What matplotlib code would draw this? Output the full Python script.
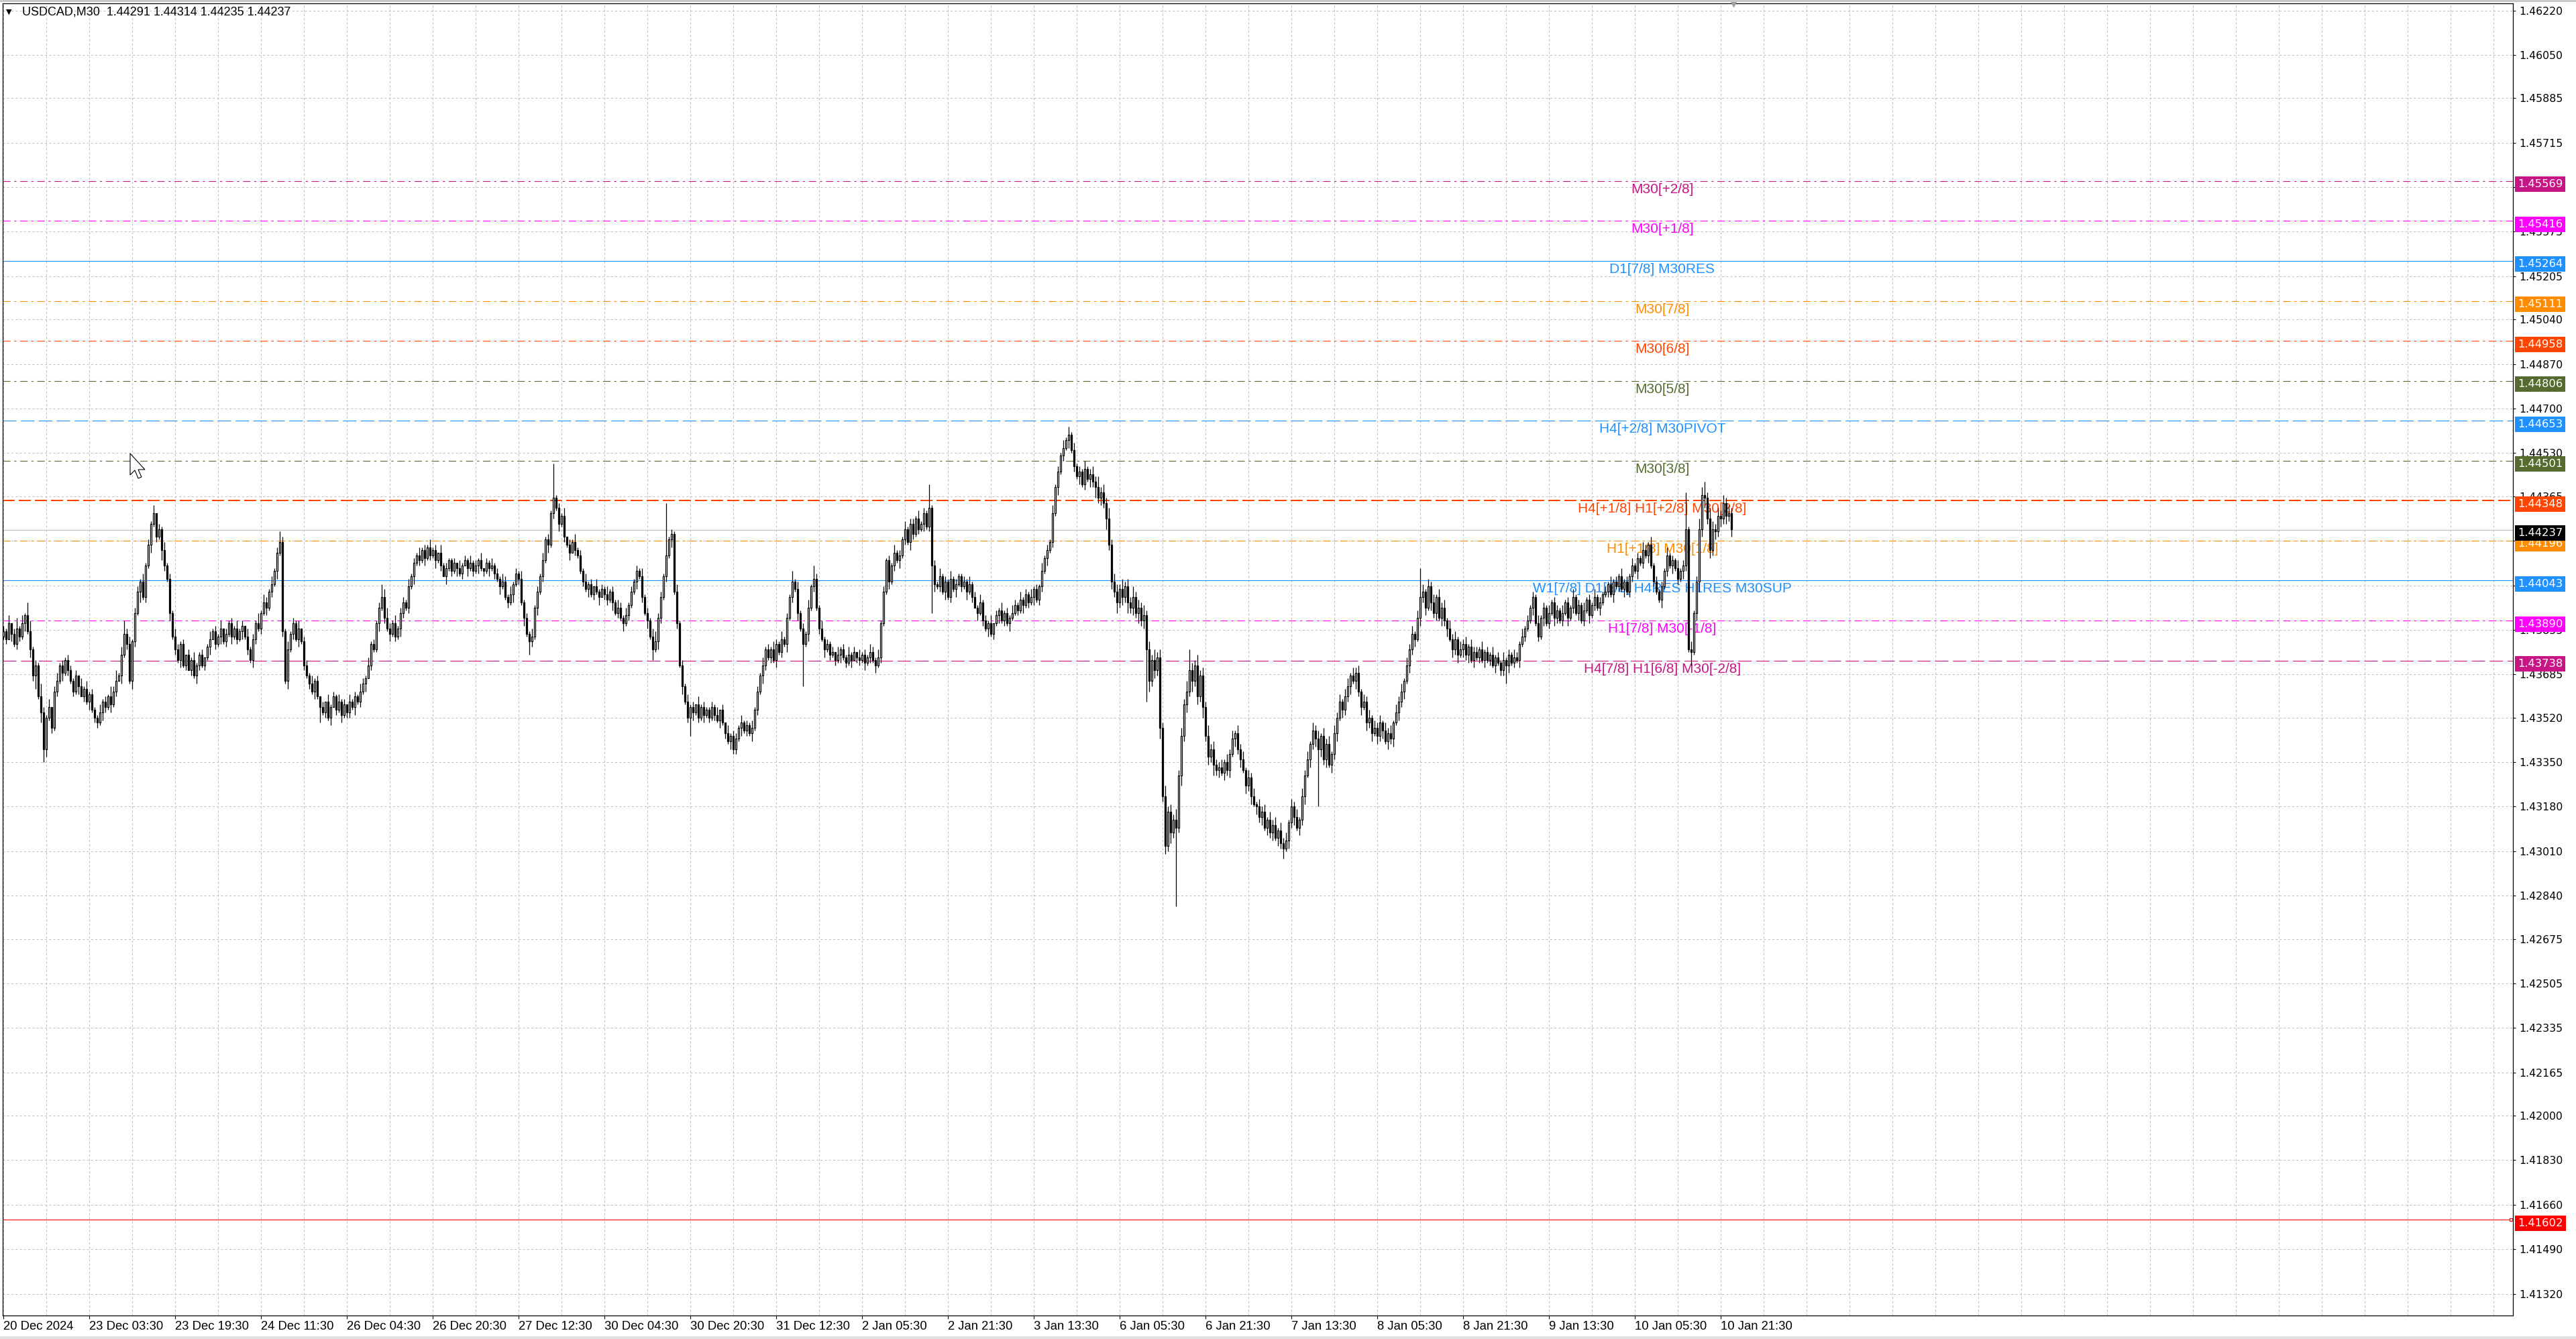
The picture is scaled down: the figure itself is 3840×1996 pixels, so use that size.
import numpy as np
import matplotlib
matplotlib.use("Agg")
import matplotlib.pyplot as plt
from matplotlib.patches import Polygon, Rectangle
from matplotlib.transforms import blended_transform_factory, offset_copy

W, H, DPI = 3840, 1996, 100

# ---------------- data (prices in pips above 1.40000) ----------------
title = "USDCAD,M30  1.44291 1.44314 1.44235 1.44237"

time_labels = ["20 Dec 2024", "23 Dec 03:30", "23 Dec 19:30", "24 Dec 11:30", "26 Dec 04:30",
               "26 Dec 20:30", "27 Dec 12:30", "30 Dec 04:30", "30 Dec 20:30", "31 Dec 12:30",
               "2 Jan 05:30", "2 Jan 21:30", "3 Jan 13:30", "6 Jan 05:30", "6 Jan 21:30",
               "7 Jan 13:30", "8 Jan 05:30", "8 Jan 21:30", "9 Jan 13:30", "10 Jan 05:30",
               "10 Jan 21:30"]

price_ticks = [1.46220, 1.46050, 1.45885, 1.45715, 1.45545, 1.45375, 1.45205, 1.45040,
               1.44870, 1.44700, 1.44530, 1.44365, 1.44195, 1.44025, 1.43855, 1.43685,
               1.43520, 1.43350, 1.43180, 1.43010, 1.42840, 1.42675, 1.42505, 1.42335,
               1.42165, 1.42000, 1.41830, 1.41660, 1.41490, 1.41320]

first_open = 383
dec20 = [385, 382, 388, 384, 380, 386, 383, 388, 391, 385, 378, 368, 372, 360, 354, 340, 352,
         356, 348, 362, 366, 372, 369, 374, 370]
dec23 = [366, 362, 368, 364, 360, 363, 358, 361, 355, 352, 350, 354, 358, 356, 360, 357, 362,
         366, 368, 376, 384, 380, 366, 381, 392, 400, 404, 398, 410, 418, 426, 430, 421, 424,
         416, 410, 405, 392, 383, 378, 374, 380, 372, 376, 370, 374, 368, 372]
dec24 = [376, 372, 375, 379, 382, 385, 380, 383, 386, 381, 384, 388, 383, 386, 382, 385, 387,
         383, 378, 374, 382, 388, 386, 392, 396, 394, 400, 403, 408, 415, 419, 385, 366, 378,
         384, 388, 382, 386, 381, 372, 368, 365, 362, 366, 360, 356]
dec26 = [354, 358, 352, 356, 360, 355, 358, 353, 357, 354, 358, 356, 360, 358, 362, 365, 367,
         372, 380, 378, 388, 394, 398, 390, 386, 384, 388, 383, 386, 392, 396, 394, 402, 406,
         411, 414, 412, 416, 413, 417, 414, 416, 412, 415, 410, 406, 409, 412]
dec27 = [408, 411, 409, 407, 410, 412, 409, 411, 408, 410, 412, 409, 408, 411, 409, 410, 407,
         405, 402, 404, 398, 396, 399, 403, 407, 405, 396, 390, 384, 381, 383, 394, 400, 406,
         412, 420, 418, 430, 436, 432, 426, 429, 421, 418, 415, 419, 416, 414]
dec30 = [408, 404, 401, 403, 399, 402, 400, 398, 401, 399, 397, 400, 396, 392, 394, 390, 388,
         391, 395, 400, 404, 408, 406, 398, 392, 389, 383, 378, 381, 390, 398, 406, 414, 420,
         422, 400, 388, 372, 364, 358, 352, 356, 354, 357, 352, 356, 353, 355]
dec31 = [352, 356, 353, 351, 355, 350, 346, 343, 345, 340, 344, 348, 350, 347, 349, 346, 348,
         355, 362, 368, 372, 378, 375, 378, 374, 380, 377, 382, 380, 390, 398, 404, 401, 392,
         386, 380, 384, 394, 402, 405, 394, 386, 382, 378, 380, 376]
jan02 = [377, 374, 376, 378, 375, 373, 376, 374, 377, 375, 374, 376, 373, 375, 377, 374, 372,
         375, 388, 400, 412, 404, 410, 415, 412, 414, 420, 424, 419, 426, 422, 428, 424, 426,
         430, 425, 432, 410, 403, 402, 406, 400, 404, 398, 405, 401, 403, 406]
jan03 = [402, 404, 400, 403, 398, 394, 392, 396, 389, 386, 388, 384, 388, 391, 393, 389, 392,
         388, 390, 392, 395, 393, 397, 395, 399, 396, 398, 401, 397, 402, 408, 413, 416, 419,
         430, 440, 446, 452, 455, 458, 460, 454, 448, 444, 446, 441, 447, 443]
jan06 = [445, 442, 440, 436, 438, 434, 428, 418, 404, 400, 396, 401, 398, 402, 396, 394, 398,
         392, 394, 389, 391, 378, 366, 374, 370, 375, 348, 322, 303, 316, 308, 313, 310, 330,
         345, 357, 362, 370, 366, 372, 360, 368, 356, 345, 337, 340, 334, 332]
jan07 = [333, 331, 335, 332, 338, 344, 346, 340, 336, 332, 326, 329, 322, 319, 318, 314, 316,
         310, 313, 308, 311, 306, 309, 304, 302, 305, 312, 318, 314, 310, 313, 322, 330, 336,
         342, 347, 344, 340, 345, 336, 342, 334, 338, 346, 352, 358, 355, 360]
jan08 = [364, 368, 366, 369, 362, 356, 358, 350, 352, 346, 348, 345, 350, 347, 343, 346, 344,
         350, 354, 358, 362, 366, 372, 378, 384, 382, 390, 398, 400, 394, 402, 396, 392, 398,
         390, 394, 389, 386, 382, 378, 382, 376, 378, 380, 376, 379, 374, 377]
jan09 = [375, 378, 374, 377, 374, 376, 372, 375, 373, 370, 374, 372, 376, 373, 375, 374, 380,
         383, 386, 389, 394, 398, 388, 383, 390, 394, 388, 392, 396, 390, 393, 389, 392, 396,
         390, 394, 398, 392, 395, 389, 393, 397, 391, 395, 398, 394, 396, 399]
jan10 = [400, 403, 399, 404, 402, 406, 401, 404, 400, 406, 410, 408, 413, 411, 416, 414, 418,
         410, 404, 400, 397, 402, 408, 414, 410, 412, 409, 405, 408, 410, 424, 378, 377, 392,
         404, 424, 437, 436, 428, 416, 424, 423, 429, 428, 434, 429, 430, 424]

# upper / lower wick lengths in pips, one digit per bar (one line per trading day)
wick_up = ("2130241312" "4121521302" "31212"
           "2120313121" "1312142413" "5231221312" "1302131213" "21202131"
           "1201312130" "2121312031" "2141321312" "4213121302" "213120"
           "2031213120" "3121321312" "1213421312" "2131213121" "31203121"
           "1203121312" "1302131213" "2131213121" "3121312131" "21302131"
           "2131203121" "3121321312" "1213121342" "2131213121" "31203121"
           "1213020312" "2131213121" "3121321312" "1213121312" "213121"
           "2031213120" "3121321312" "1213121312" "2131213121" "31213121"
           "1213121312" "1302131213" "2131213121" "3121312131" "21312131"
           "2324232423" "3242324232" "4232423242" "3242324232" "42324232"
           "2313231323" "1323132313" "2313231323" "1323132313" "23132313"
           "3132313231" "3231323132" "3132313231" "3231323132" "31323132"
           "2131213121" "3121321312" "1213121312" "2131213121" "31213121"
           "2131213121" "3121321312" "1213121312" "2131243424" "32323232")
wick_dn = ("1203122131" "3251423121" "21312"
           "1213021312" "2132131203" "1213214121" "3121421312" "13120213"
           "2121302131" "2131213121" "3212131213" "1213121312" "121312"
           "1213021312" "2131213021" "1312131213" "2121312131" "21312031"
           "2131203121" "3121312131" "1213121312" "2131213121" "31213021"
           "1213121302" "2131213121" "1312131213" "2121312131" "21312131"
           "2121312131" "2131213121" "3212131213" "1213121312" "121312"
           "1213121302" "2131213121" "1312131213" "2121312131" "21312131"
           "2131203121" "3121312131" "1213121312" "2131213121" "31213121"
           "3242324232" "4232423242" "3242324232" "4232423242" "32423242"
           "3132313231" "3231323132" "3132313231" "3231323132" "31323132"
           "2313231323" "1323132313" "2313231323" "1323132313" "23132313"
           "1213121312" "2131213121" "1312131213" "2121312131" "21312131"
           "1213121312" "2131213121" "1312131213" "2121343423" "23232323")

# notable extremes (bar index -> pips)
high_spikes = {9: 396, 56: 433, 103: 422, 141: 403, 205: 449, 236: 410, 247: 434, 294: 408,
               302: 410, 345: 441, 397: 463, 442: 378, 528: 409, 627: 438, 634: 442}
low_spikes = {15: 335, 118: 350, 196: 376, 242: 374, 256: 345, 272: 338, 298: 364, 346: 392,
              426: 358, 437: 280, 477: 298, 490: 318, 560: 365, 618: 395, 629: 372}

level_prices = [1.45569, 1.45416, 1.45264, 1.45111, 1.44958, 1.44806, 1.44653, 1.44501,
                1.44348, 1.44196, 1.44043, 1.43890, 1.43738]
level_names = ["M30[+2/8]", "M30[+1/8]", "D1[7/8] M30RES", "M30[7/8]", "M30[6/8]", "M30[5/8]",
               "H4[+2/8] M30PIVOT", "M30[3/8]", "H4[+1/8] H1[+2/8] M30[2/8]", "H1[+1/8] M30[1/8]",
               "W1[7/8] D1[6/8] H4RES H1RES M30SUP", "H1[7/8] M30[-1/8]",
               "H4[7/8] H1[6/8] M30[-2/8]"]
level_colors = ["#C71585", "#FF00FF", "#1E90FF", "#FF8C00", "#FF4500", "#556B2F", "#1E90FF",
                "#556B2F", "#FF4500", "#FF8C00", "#1E90FF", "#FF00FF", "#C71585"]
level_styles = ["dashdot", "dashdot", "solid", "dashdot", "dashdot", "dashdot", "dash",
                "dashdot", "dash", "dashdot", "solid", "dashdot", "dash"]

bid_price = 1.44237
alert_price = 1.41602

# ---------------- build candles ----------------
closes = dec20 + dec23 + dec24 + dec26 + dec27 + dec30 + dec31 + jan02 + jan03 + jan06 + \
    jan07 + jan08 + jan09 + jan10
n = len(closes)
c = 1.4 + np.array(closes) / 1e4
o = np.r_[1.4 + first_open / 1e4, c[:-1]]
up = np.array([int(ch) for ch in wick_up.ljust(n, "1")[:n]]) / 1e4
dn = np.array([int(ch) for ch in wick_dn.ljust(n, "1")[:n]]) / 1e4
hi = np.maximum(o, c) + up
lo = np.minimum(o, c) - dn
for b, v in high_spikes.items():
    if b < n:
        hi[b] = max(hi[b], 1.4 + v / 1e4)
for b, v in low_spikes.items():
    if b < n:
        lo[b] = min(lo[b], 1.4 + v / 1e4)
x = np.arange(n)

# ---------------- figure ----------------
fig = plt.figure(figsize=(W / DPI, H / DPI), dpi=DPI, facecolor="white")
ax = fig.add_axes([4 / W, 1 - 1961 / H, (3746 - 4) / W, (1961 - 5) / H])
ax.set_facecolor("white")
ax.set_xlim(-0.25, 935.25)
ax.set_ylim(1.41237, 1.46247)

grid_kw = dict(color="#C0C0C0", lw=0.75, ls=(0, (3, 3)), zorder=0)
for b in range(0, 936, 16):
    ax.axvline(b, **grid_kw)
for p in price_ticks:
    ax.axhline(p, **grid_kw)

dash_map = {"dashdot": (0, (10, 5, 3, 5)), "dash": (0, (18, 6)), "solid": "-"}
for p, col, st in zip(level_prices, level_colors, level_styles):
    lw = 0.8
    ls = dash_map[st]
    if p == 1.44348:
        lw, ls = 1.44, (0, (9, 3))
    ax.axhline(p, color=col, lw=lw, ls=ls, zorder=2)
ax.axhline(bid_price, color="#C0C0C0", lw=0.9, zorder=2)
ax.axhline(alert_price, color="#FF0000", lw=0.8, zorder=2)
ax.plot([934.5], [alert_price], marker="s", ms=3.5, mfc="white", mec="#FF0000", mew=0.9,
        zorder=3, clip_on=False)

for p, name, col in zip(level_prices, level_names, level_colors):
    ax.annotate(name, xy=(618.25, p), xytext=(0, -3), textcoords="offset pixels",
                ha="center", va="top", color=col, fontsize=15, family="Liberation Sans",
                zorder=4)

# candles
ax.vlines(x, lo, hi, color="black", lw=0.9, zorder=5)
bull = c >= o
ax.bar(x[bull], (c - o)[bull], bottom=o[bull], width=0.62, facecolor="white",
       edgecolor="black", linewidth=0.9, zorder=6)
ax.bar(x[~bull], (o - c)[~bull], bottom=c[~bull], width=0.62, facecolor="black",
       edgecolor="black", linewidth=0.9, zorder=6)

# chart shift marker
ax.plot([644.75], [1.46247], marker="v", ms=7, color="#A0A0A0", clip_on=False, zorder=8)

# axes look
for s in ax.spines.values():
    s.set_color("black")
    s.set_linewidth(0.9)
ax.yaxis.tick_right()
ax.set_yticks(price_ticks)
ax.set_yticklabels([f"{p:.5f}" for p in price_ticks])
ax.tick_params(axis="y", direction="out", length=3, width=0.8, pad=4, labelsize=11.3,
               colors="black")
ax.set_xticks(range(0, 32 * len(time_labels), 32))
ax.set_xticklabels(time_labels)
ax.tick_params(axis="x", direction="out", length=3.5, width=0.8, pad=2, labelsize=13.3)
for lab in ax.get_xticklabels():
    lab.set_horizontalalignment("left")
    lab.set_family("Liberation Sans")
for lab in ax.get_yticklabels():
    lab.set_family("DejaVu Sans")

# price boxes on the right scale (drawn just below their line, as the terminal does)
trans = offset_copy(blended_transform_factory(ax.transAxes, ax.transData), fig=fig,
                    x=7, y=-5, units="dots")
box_prices = level_prices + [bid_price, alert_price]
box_colors = level_colors + ["#000000", "#FF0000"]
for p, col in zip(box_prices, box_colors):
    ax.text(1.0, p, f"{p:.5f}", transform=trans, ha="left", va="center", color="white",
            fontsize=11.8, family="DejaVu Sans", clip_on=False, zorder=20,
            bbox=dict(boxstyle="square,pad=0.25", fc=col, ec="none"))

# title
fig.text(9 / W, 1 - 18 / H, "\u25bc", fontsize=8, ha="left", va="center",
         family="DejaVu Sans", color="black")
fig.text(33 / W, 1 - 18 / H, title, fontsize=13, ha="left", va="center",
         family="Liberation Sans", color="black")

# mouse cursor
tip = (194, 676)
pts = [(0, 0), (0, 32), (7, 25), (12, 37), (17, 35), (12, 24), (22, 24)]
poly = [((tip[0] + px) / W, 1 - (tip[1] + py) / H) for px, py in pts]
fig.add_artist(Polygon(poly, closed=True, fc="white", ec="black", lw=0.8,
                       transform=fig.transFigure))

# window frame edges
fig.add_artist(Rectangle((0, 1 - 3 / H), 1, 3 / H, fc="#C8C8C8", ec="none",
                         transform=fig.transFigure))
fig.add_artist(Rectangle((0, 0), 1, 4 / H, fc="#E0E0E0", ec="none",
                         transform=fig.transFigure))

fig.savefig("out.png", dpi=DPI, facecolor="white")
